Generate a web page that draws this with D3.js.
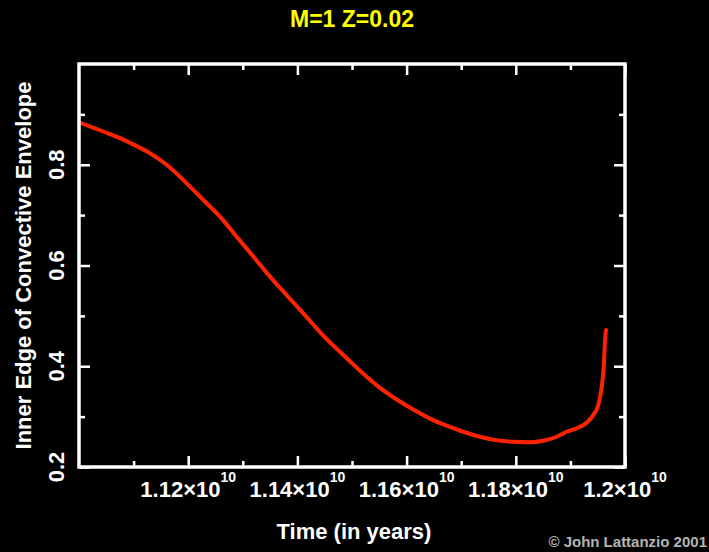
<!DOCTYPE html>
<html>
<head>
<meta charset="utf-8">
<script src="https://cdn.jsdelivr.net/npm/d3@7"></script>
<style>
  html, body { margin: 0; padding: 0; background: #000; }
  svg { display: block; }
  text { font-family: "Liberation Sans", Arial, Helvetica, sans-serif; font-weight: bold; }
</style>
</head>
<body>
<svg id="chart" width="709" height="552"></svg>
<script>
// Time since model start (years) and inner edge of the convective envelope (fraction of radius)
const timeYears = [
  1.10005e10, 1.10445e10, 1.10751e10, 1.11057e10, 1.11300e10, 1.11606e10,
  1.11973e10, 1.12277e10, 1.12582e10, 1.12888e10, 1.13192e10, 1.13498e10,
  1.13804e10, 1.14108e10, 1.14474e10, 1.14903e10, 1.15207e10, 1.15513e10,
  1.15819e10, 1.16123e10, 1.16429e10, 1.16734e10, 1.17038e10, 1.17344e10,
  1.17650e10, 1.17954e10, 1.18260e10, 1.18504e10, 1.18749e10, 1.18932e10,
  1.19115e10, 1.19299e10, 1.19419e10, 1.19511e10, 1.19573e10, 1.19615e10,
  1.19634e10, 1.19652e10
];
const innerEdge = [
  0.884, 0.866, 0.853, 0.837, 0.823, 0.800,
  0.763, 0.730, 0.697, 0.657, 0.618, 0.578,
  0.541, 0.505, 0.461, 0.416, 0.385, 0.357,
  0.334, 0.314, 0.296, 0.282, 0.270, 0.260,
  0.253, 0.250, 0.249, 0.252, 0.260, 0.270,
  0.277, 0.288, 0.303, 0.323, 0.359, 0.406,
  0.452, 0.472
];

// Axis ticks
const xMajorTicks = [1.12e10, 1.14e10, 1.16e10, 1.18e10, 1.20e10];
const xMajorLabels = ["1.12", "1.14", "1.16", "1.18", "1.2"];
const xMinorTicks = [1.11e10, 1.13e10, 1.15e10, 1.17e10, 1.19e10];
const yMajorTicks = [0.2, 0.4, 0.6, 0.8];
const yMajorLabels = ["0.2", "0.4", "0.6", "0.8"];
const yMinorTicks = [0.3, 0.5, 0.7, 0.9];

const titleText = "M=1 Z=0.02";
const xTitle = "Time (in years)";
const yTitle = "Inner Edge of Convective Envelope";
const credit = "\u00A9 John Lattanzio 2001";

const svg = d3.select("#chart");
const plotLeft = 79, plotRight = 625, plotTop = 64, plotBottom = 467;

const x = d3.scaleLinear().domain([1.10e10, 1.20e10]).range([plotLeft, plotRight]);
const y = d3.scaleLinear().domain([0.2, 1.0]).range([plotBottom, plotTop]);

svg.append("rect").attr("width", 709).attr("height", 552).attr("fill", "#000");

// Title
svg.append("text")
  .attr("x", 352).attr("y", 27)
  .attr("text-anchor", "middle")
  .attr("font-size", 23)
  .attr("fill", "#ffff00")
  .text(titleText);

// Data curve (drawn before the frame so the frame sits on top)
const pts = timeYears.map((t, i) => [t, innerEdge[i]]);
const line = d3.line().x(d => x(d[0])).y(d => y(d[1])).curve(d3.curveMonotoneX);
svg.append("path")
  .datum(pts)
  .attr("d", line)
  .attr("fill", "none")
  .attr("stroke", "#ff2200")
  .attr("stroke-width", 4)
  .attr("stroke-linejoin", "round")
  .attr("stroke-linecap", "round");

// Inward ticks on all four sides
function styleAxis(g) {
  g.select(".domain").remove();
  g.selectAll(".tick line").attr("stroke", "#fff").attr("stroke-width", 2.5);
  g.selectAll(".tick text").remove();
}
const MAJ = 11, MIN = 6;
svg.append("g").attr("transform", `translate(0,${plotBottom})`)
  .call(d3.axisBottom(x).tickValues(xMajorTicks).tickSize(-MAJ)).call(styleAxis);
svg.append("g").attr("transform", `translate(0,${plotBottom})`)
  .call(d3.axisBottom(x).tickValues(xMinorTicks).tickSize(-MIN)).call(styleAxis);
svg.append("g").attr("transform", `translate(0,${plotTop})`)
  .call(d3.axisTop(x).tickValues(xMajorTicks).tickSize(-MAJ)).call(styleAxis);
svg.append("g").attr("transform", `translate(0,${plotTop})`)
  .call(d3.axisTop(x).tickValues(xMinorTicks).tickSize(-MIN)).call(styleAxis);
svg.append("g").attr("transform", `translate(${plotLeft},0)`)
  .call(d3.axisLeft(y).tickValues(yMajorTicks).tickSize(-MAJ)).call(styleAxis);
svg.append("g").attr("transform", `translate(${plotLeft},0)`)
  .call(d3.axisLeft(y).tickValues(yMinorTicks).tickSize(-MIN)).call(styleAxis);
svg.append("g").attr("transform", `translate(${plotRight},0)`)
  .call(d3.axisRight(y).tickValues(yMajorTicks).tickSize(-MAJ)).call(styleAxis);
svg.append("g").attr("transform", `translate(${plotRight},0)`)
  .call(d3.axisRight(y).tickValues(yMinorTicks).tickSize(-MIN)).call(styleAxis);

// Frame
svg.append("rect")
  .attr("x", plotLeft).attr("y", plotTop)
  .attr("width", plotRight - plotLeft).attr("height", plotBottom - plotTop)
  .attr("fill", "none").attr("stroke", "#fff").attr("stroke-width", 3.5);

// X tick labels: mantissa × 10^10
xMajorTicks.forEach((v, i) => {
  const t = svg.append("text")
    .attr("x", x(v)).attr("y", 497)
    .attr("text-anchor", "middle")
    .attr("font-size", 22)
    .attr("fill", "#fff");
  t.append("tspan").text(xMajorLabels[i] + "\u00D710");
  t.append("tspan").attr("font-size", 14).attr("dy", -15).text("10");
});

// Y tick labels (rotated)
yMajorTicks.forEach((v, i) => {
  svg.append("text")
    .attr("transform", `translate(64,${y(v)}) rotate(-90)`)
    .attr("text-anchor", "middle")
    .attr("font-size", 22)
    .attr("fill", "#fff")
    .text(yMajorLabels[i]);
});

// Axis titles
svg.append("text")
  .attr("x", 354).attr("y", 539)
  .attr("text-anchor", "middle")
  .attr("font-size", 22)
  .attr("fill", "#fff")
  .text(xTitle);
svg.append("text")
  .attr("transform", `translate(31,${(plotTop + plotBottom) / 2}) rotate(-90)`)
  .attr("text-anchor", "middle")
  .attr("font-size", 22)
  .attr("fill", "#fff")
  .text(yTitle);

// Credit line
svg.append("text")
  .attr("x", 707).attr("y", 547)
  .attr("text-anchor", "end")
  .attr("font-size", 15)
  .attr("font-weight", "normal")
  .attr("fill", "#b4b4b4")
  .text(credit);
</script>
</body>
</html>
